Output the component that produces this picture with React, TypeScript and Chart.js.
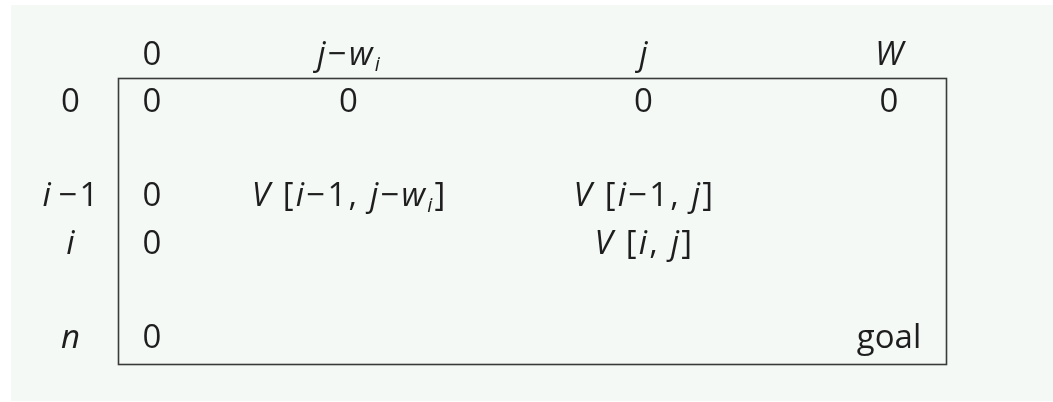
import React, { useEffect, useRef } from "react";
import { Chart, registerables } from "chart.js";

Chart.register(...registerables);

// Column (capacity) header labels and their abstract positions
const columnLabels = ["0", "j−w_i", "j", "W"];
const columnPositions = [0, 2, 5, 7.5];

// Row (item) labels and their abstract positions
const rowLabels = ["0", "i\u200A−1", "i", "n"];
const rowPositions = [0, 2, 3, 5];

// Table cells shown in the diagram
const cellTexts = ["0", "0", "0", "0", "0", "V [i−1, j−w_i]", "V [i−1, j]", "0", "V [i, j]", "0", "goal"];
const cellCols = [0, 2, 5, 7.5, 0, 2, 5, 0, 5, 0, 7.5];
const cellRows = [0, 0, 0, 0, 2, 2, 2, 3, 3, 5, 5];

const HEADER_ROW = -1;
const LABEL_COL = -0.83;

const FONT_FAMILY = '"Open Sans", "Noto Sans", "DejaVu Sans", sans-serif';
const FONT_SIZE = 33;
const FONT_WEIGHT = 400;
const MATH_SPACING = 2.2;
const TEXT_COLOR = "#1e1e1e";
const BG_COLOR = "#f4f9f6";
const BOX_COLOR = "#3a3a3a";

type Seg = { t: string; italic: boolean; sub: boolean };

function parseRich(s: string): Seg[] {
  const segs: Seg[] = [];
  const isLetter = (c: string) => /[A-Za-z]/.test(c);
  for (let k = 0; k < s.length; k++) {
    const c = s[k];
    if (c === "_" && k + 1 < s.length) {
      segs.push({ t: s[k + 1], italic: true, sub: true });
      k++;
      continue;
    }
    if (isLetter(c)) {
      const prev = k > 0 ? s[k - 1] : "";
      const next = k + 1 < s.length ? s[k + 1] : "";
      const single = !isLetter(prev) && !isLetter(next);
      segs.push({ t: c, italic: single, sub: false });
    } else {
      segs.push({ t: c, italic: false, sub: false });
    }
  }
  const merged: Seg[] = [];
  for (const sg of segs) {
    const last = merged[merged.length - 1];
    if (last && last.italic === sg.italic && last.sub === sg.sub) last.t += sg.t;
    else merged.push({ ...sg });
  }
  return merged;
}

function fontFor(seg: Seg) {
  const size = seg.sub ? Math.round(FONT_SIZE * 0.62) : FONT_SIZE;
  return `${seg.italic ? "italic " : ""}${FONT_WEIGHT} ${size}px ${FONT_FAMILY}`;
}

function drawRich(ctx: CanvasRenderingContext2D, text: string, cx: number, cy: number) {
  const segs = parseRich(text);
  const isMath = segs.some((sg) => sg.italic) || (text.length > 1 && !/^[a-z]+$/.test(text));
  const spacing = isMath ? MATH_SPACING : 0;
  const c: any = ctx;
  const widths = segs.map((sg) => {
    ctx.font = fontFor(sg);
    c.letterSpacing = "0px";
    return ctx.measureText(sg.t).width + spacing * sg.t.length;
  });
  const total = widths.reduce((a, b) => a + b, 0) - spacing;
  let x = cx - total / 2;
  const baseline = cy + FONT_SIZE * 0.357;
  ctx.textBaseline = "alphabetic";
  ctx.textAlign = "left";
  ctx.fillStyle = TEXT_COLOR;
  segs.forEach((sg, idx) => {
    ctx.font = fontFor(sg);
    c.letterSpacing = `${spacing}px`;
    ctx.fillText(sg.t, x, sg.sub ? baseline + FONT_SIZE * 0.17 : baseline);
    x += widths[idx];
  });
  c.letterSpacing = "0px";
}

const tablePlugin = {
  id: "tablePlugin",
  beforeDraw(chart: any) {
    const { ctx, width, height } = chart;
    ctx.save();
    ctx.fillStyle = "#ffffff";
    ctx.fillRect(0, 0, width, height);
    ctx.fillStyle = BG_COLOR;
    ctx.fillRect(11, 5, width - 11, height - 6);
    ctx.restore();
  },
  afterDraw(chart: any) {
    const { ctx, chartArea } = chart;
    ctx.save();
    ctx.strokeStyle = BOX_COLOR;
    ctx.lineWidth = 1.6;
    ctx.strokeRect(
      Math.round(chartArea.left) + 0.5,
      Math.round(chartArea.top) + 0.5,
      Math.round(chartArea.right - chartArea.left),
      Math.round(chartArea.bottom - chartArea.top)
    );
    chart.data.datasets.forEach((ds: any, di: number) => {
      const meta = chart.getDatasetMeta(di);
      meta.data.forEach((pt: any, pi: number) => {
        drawRich(ctx, ds.texts[pi], pt.x, pt.y);
      });
    });
    ctx.restore();
  },
};

export default function App() {
  const canvasRef = useRef<HTMLCanvasElement | null>(null);

  useEffect(() => {
    document.body.style.margin = "0";
    const canvas = canvasRef.current;
    if (!canvas) return;
    const chart = new Chart(canvas, {
      type: "scatter",
      data: {
        datasets: [
          {
            label: "columns",
            data: columnPositions.map((x) => ({ x, y: HEADER_ROW })),
            texts: columnLabels,
            pointRadius: 0,
          } as any,
          {
            label: "rows",
            data: rowPositions.map((y) => ({ x: LABEL_COL, y })),
            texts: rowLabels,
            pointRadius: 0,
          } as any,
          {
            label: "cells",
            data: cellTexts.map((_, k) => ({ x: cellCols[k], y: cellRows[k] })),
            texts: cellTexts,
            pointRadius: 0,
          } as any,
        ],
      },
      options: {
        animation: false,
        responsive: false,
        devicePixelRatio: 1,
        layout: { padding: { left: 118, top: 78, right: 107, bottom: 38 } },
        plugins: { legend: { display: false }, tooltip: { enabled: false } },
        scales: {
          x: { type: "linear", display: false, min: -0.346, max: 8.08 },
          y: { type: "linear", display: false, reverse: true, min: -0.478, max: 5.594 },
        },
      },
      plugins: [tablePlugin],
    });
    return () => chart.destroy();
  }, []);

  return <canvas ref={canvasRef} width={1053} height={402} style={{ display: "block" }} />;
}
